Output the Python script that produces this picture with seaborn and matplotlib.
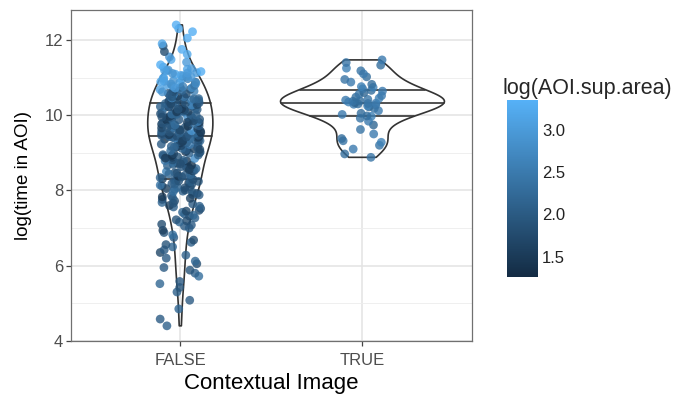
import numpy as np
import pandas as pd
import seaborn as sns
import matplotlib.pyplot as plt
from matplotlib.colors import LinearSegmentedColormap, Normalize
from matplotlib.cm import ScalarMappable

categories = ["FALSE", "TRUE"]

false_time = [4.40, 4.58, 4.85, 5.08, 5.30, 5.42, 5.52, 5.58, 5.72, 5.80,
              5.88, 5.95, 6.05, 6.12, 6.20, 6.28, 6.35, 6.42, 6.50, 6.56,
              6.62, 6.68, 6.75, 6.82, 6.88, 6.94, 7.00, 7.05, 7.10, 7.16,
              7.22, 7.27, 7.32, 7.37, 7.42, 7.47, 7.52, 7.56, 7.60, 7.64,
              7.68, 7.72, 7.76, 7.80, 7.83, 7.86, 7.89, 7.92, 7.95, 7.98,
              8.01, 8.03, 8.05, 8.08, 8.10, 8.12, 8.14, 8.16, 8.18, 8.20,
              8.22, 8.24, 8.26, 8.27, 8.29,
              7.08, 7.19, 7.34, 7.45, 7.58, 7.66, 7.79, 7.88, 7.97, 8.07,
              8.17, 8.25,
              8.31, 8.34, 8.35, 8.38, 8.41, 8.42, 8.46, 8.47, 8.50, 8.52,
              8.53, 8.57, 8.58, 8.61, 8.62, 8.66, 8.67, 8.69, 8.72, 8.74,
              8.75, 8.78, 8.80, 8.81, 8.84, 8.85, 8.88, 8.89, 8.92, 8.93,
              8.95, 8.98, 8.99, 9.02, 9.03, 9.05, 9.07, 9.08, 9.11, 9.12,
              9.14, 9.16, 9.17, 9.19, 9.21, 9.22, 9.24, 9.26, 9.27, 9.29,
              9.30, 9.32, 9.33, 9.35, 9.36, 9.37, 9.39, 9.40, 9.41, 9.42,
              9.43, 9.44, 9.45, 9.46, 9.47,
              8.36, 8.44, 8.55, 8.63, 8.71, 8.79, 8.86, 8.94, 9.00, 9.09,
              9.15, 9.23, 9.31, 9.38, 9.42, 9.46,
              9.48, 9.50, 9.51, 9.52, 9.54, 9.55, 9.57, 9.58, 9.59, 9.61,
              9.62, 9.64, 9.65, 9.66, 9.68, 9.69, 9.71, 9.72, 9.73, 9.75,
              9.76, 9.78, 9.79, 9.80, 9.82, 9.83, 9.85, 9.86, 9.87, 9.89,
              9.90, 9.92, 9.93, 9.94, 9.96, 9.97, 9.99, 10.00, 10.01, 10.03,
              10.04, 10.06, 10.07, 10.08, 10.10, 10.11, 10.13, 10.14, 10.15, 10.17,
              10.18, 10.20, 10.21, 10.22, 10.24, 10.25, 10.27, 10.28, 10.29, 10.31,
              10.32, 10.34, 10.35, 10.36, 10.38,
              9.53, 9.60, 9.67, 9.74, 9.81, 9.88, 9.95, 10.02, 10.09, 10.16,
              10.23, 10.30, 10.33, 10.37,
              10.39, 10.41, 10.42, 10.44, 10.46, 10.47, 10.49, 10.51, 10.52, 10.54,
              10.56, 10.57, 10.59, 10.61, 10.63, 10.64, 10.66, 10.68, 10.69, 10.71,
              10.73, 10.74,
              10.77, 10.79, 10.81, 10.83, 10.86, 10.88, 10.90, 10.92, 10.95, 10.97,
              10.99, 11.02, 11.04, 11.06, 11.09, 11.11, 11.13, 11.16, 11.18, 11.20,
              11.22, 11.24,
              10.43, 10.48, 10.58, 10.62, 10.72, 10.76, 10.85, 10.89, 10.98, 11.03,
              11.12, 11.19,
              11.28, 11.34, 11.41, 11.48, 11.55, 11.62, 11.69, 11.75,
              11.84, 11.90, 12.05,
              12.22, 12.30, 12.40]

false_area = [2.1, 2.0, 2.2, 2.0, 2.1, 1.9, 2.2, 2.0, 2.3, 2.1,
              1.9, 2.0, 1.8, 2.2, 2.0, 2.1, 1.7, 2.0, 2.2, 1.9,
              2.1, 1.8, 2.0, 2.3, 1.9, 1.6, 2.1, 2.0, 1.8, 2.2,
              1.9, 2.1, 1.7, 2.0, 2.2, 1.8, 1.9, 2.1, 1.6, 2.0,
              2.2, 1.8, 1.9, 2.1, 1.5, 2.0, 2.3, 1.7, 1.9, 2.1,
              1.8, 2.0, 1.6, 2.2, 1.9, 1.7, 2.4, 1.8, 2.0, 1.5,
              2.1, 1.9, 1.7, 2.0, 1.8,
              2.0, 1.8, 2.2, 1.7, 2.1, 1.9, 1.6, 2.0, 2.3, 1.8,
              2.1, 1.9,
              1.6, 2.1, 1.9, 1.4, 2.0, 2.2, 1.7, 1.9, 2.6, 1.5,
              2.0, 1.8, 2.2, 1.6, 1.9, 2.1, 1.4, 2.0, 1.7, 2.3,
              1.9, 1.5, 2.1, 1.8, 2.0, 2.8, 1.6, 1.9, 2.2, 1.4,
              2.0, 1.7, 2.1, 1.9, 1.5, 2.3, 1.8, 2.0, 1.6, 2.2,
              1.9, 1.4, 2.1, 1.7, 2.0, 2.5, 1.8, 1.5, 2.1, 1.9,
              1.6, 2.2, 1.8, 2.0, 1.4, 1.9, 2.7, 1.7, 2.0, 1.5,
              2.1, 1.8, 1.6, 2.0, 1.9,
              1.9, 2.2, 1.6, 2.0, 1.8, 2.4, 1.5, 2.1, 1.9, 1.7,
              2.2, 2.0, 1.6, 2.3, 1.8, 2.0,
              1.5, 2.0, 1.8, 2.2, 1.4, 1.9, 2.1, 1.6, 2.9, 1.8,
              2.0, 1.5, 2.2, 1.7, 1.9, 2.4, 1.4, 2.0, 1.8, 2.1,
              1.6, 2.3, 1.9, 1.5, 2.0, 2.6, 1.7, 2.1, 1.4, 1.9,
              2.2, 1.8, 1.6, 2.0, 2.8, 1.5, 1.9, 2.1, 1.7, 2.3,
              1.8, 1.4, 2.0, 2.5, 1.6, 1.9, 2.2, 1.7, 2.0, 1.5,
              2.1, 1.8, 2.4, 1.6, 1.9, 2.0, 2.7, 1.7, 1.5, 2.1,
              1.9, 2.2, 1.6, 2.0, 1.8,
              2.1, 1.7, 1.9, 2.3, 1.6, 2.0, 1.8, 2.2, 1.5, 1.9,
              2.1, 1.7, 2.0, 1.8,
              2.0, 2.6, 1.7, 2.2, 2.9, 1.9, 2.4, 1.6, 2.1, 2.8,
              1.8, 2.3, 3.0, 2.0, 1.7, 2.6, 2.2, 3.1, 1.9, 2.5,
              2.8, 2.1,
              3.0, 2.4, 3.1, 2.8, 3.2, 2.2, 3.0, 2.9, 3.1, 2.6,
              3.2, 3.0, 2.8, 3.1, 3.2, 2.9, 3.0, 3.3, 3.1, 2.9,
              3.2, 3.0,
              2.2, 1.9, 2.0, 2.9, 3.0, 2.6, 2.8, 3.2, 3.1, 2.9,
              3.0, 3.1,
              3.1, 3.3, 3.0, 3.2, 2.9, 3.2, 1.8, 3.3,
              1.9, 3.2, 3.3,
              3.3, 3.2, 3.3]

true_time = [8.88, 8.97, 9.10, 9.20, 9.28, 9.32, 9.38, 9.50, 9.62, 9.74,
             9.84, 9.92, 9.97, 9.98, 10.02, 10.05, 10.12, 10.18, 10.22, 10.25,
             10.27, 10.29, 10.30, 10.31, 10.32, 10.33, 10.35, 10.37, 10.38, 10.40,
             10.42, 10.45, 10.48, 10.52, 10.56, 10.60, 10.64, 10.66, 10.70, 10.74,
             10.76, 10.82, 10.88, 10.95, 11.02, 11.10, 11.18, 11.25,
             11.33, 11.40, 11.47]

true_area = [2.4, 2.3, 2.5, 2.4, 2.6, 2.4, 2.3, 2.5, 2.4, 2.2,
             2.5, 2.4, 2.6, 2.3, 2.5, 2.3, 2.5, 2.4, 2.2, 2.6,
             2.4, 2.5, 2.3, 2.4, 2.5, 2.2, 2.6, 2.4, 2.3, 2.5,
             2.4, 2.6, 2.3, 2.5, 2.4, 2.2, 2.5, 2.3, 2.4, 2.6,
             2.6, 2.3, 2.5, 2.4, 2.3, 2.5, 2.4, 2.6,
             2.3, 2.4, 2.5]

y_ticks = [4, 6, 8, 10, 12]
y_minor = [5, 7, 9, 11]
cbar_ticks = [1.5, 2.0, 2.5, 3.0]

df = pd.DataFrame({
    "ctx": ["FALSE"] * len(false_time) + ["TRUE"] * len(true_time),
    "time": false_time + true_time,
    "area": false_area + true_area,
})

sns.set_theme(style="white")
plt.rcParams['font.family'] = ['Liberation Sans', 'DejaVu Sans']

fig = plt.figure(figsize=(6.73, 3.95), dpi=100)
ax = fig.add_axes([0.1055, 0.137, 0.5955, 0.838])

cmap = LinearSegmentedColormap.from_list("gg", ["#132B43", "#56B1F7"])
norm = Normalize(1.26, 3.355)

sns.violinplot(data=df, x="ctx", y="time", order=categories, fill=False,
               color="#333333", linewidth=1.2, inner="quart", cut=0,
               density_norm="area", width=0.9, bw_adjust=0.85, ax=ax)
for ln in ax.lines:
    ln.set_linestyle("-")
    ln.set_color("#333333")
    ln.set_linewidth(1.2)

np.random.seed(11)
sns.stripplot(data=df, x="ctx", y="time", order=categories, hue="area",
              palette=cmap, hue_norm=norm, jitter=0.115, size=6.3, alpha=0.8,
              linewidth=0, legend=False, ax=ax, zorder=3)

ax.set_xlim(-0.6, 1.6)
ax.set_ylim(4.0, 12.8)
ax.set_yticks(y_ticks)
ax.set_yticks(y_minor, minor=True)
ax.set_axisbelow(True)
ax.grid(which="major", color="#E3E3E3", linewidth=1.1)
ax.grid(which="minor", axis="y", color="#EDEDED", linewidth=0.6)
for s in ax.spines.values():
    s.set_color("#707070")
    s.set_linewidth(0.9)
ax.tick_params(which="major", length=3.5, width=0.9, color="#444444",
               labelsize=12, labelcolor="#4D4D4D", left=True, bottom=True)
ax.tick_params(axis="x", pad=5)
ax.tick_params(axis="y", pad=2)
ax.tick_params(which="minor", length=0)
ax.set_xlabel("Contextual Image", fontsize=16, color="black", labelpad=4)
ax.set_ylabel("log(time in AOI)", fontsize=13.5, color="black", labelpad=9)

cax = fig.add_axes([0.753, 0.299, 0.046, 0.448])
cb = fig.colorbar(ScalarMappable(norm=norm, cmap=cmap), cax=cax)
cb.outline.set_visible(False)
cb.set_ticks(cbar_ticks)
cb.set_ticklabels([f"{t:.1f}" for t in cbar_ticks])
cax.tick_params(direction="in", length=5, width=0.9, color="white",
                left=True, right=True, labelleft=False, labelright=True,
                labelsize=12, labelcolor="#222222", pad=3)
fig.text(0.746, 0.777, "log(AOI.sup.area)", fontsize=15.5, va="center", ha="left")

fig.savefig("out.png", dpi=100)
